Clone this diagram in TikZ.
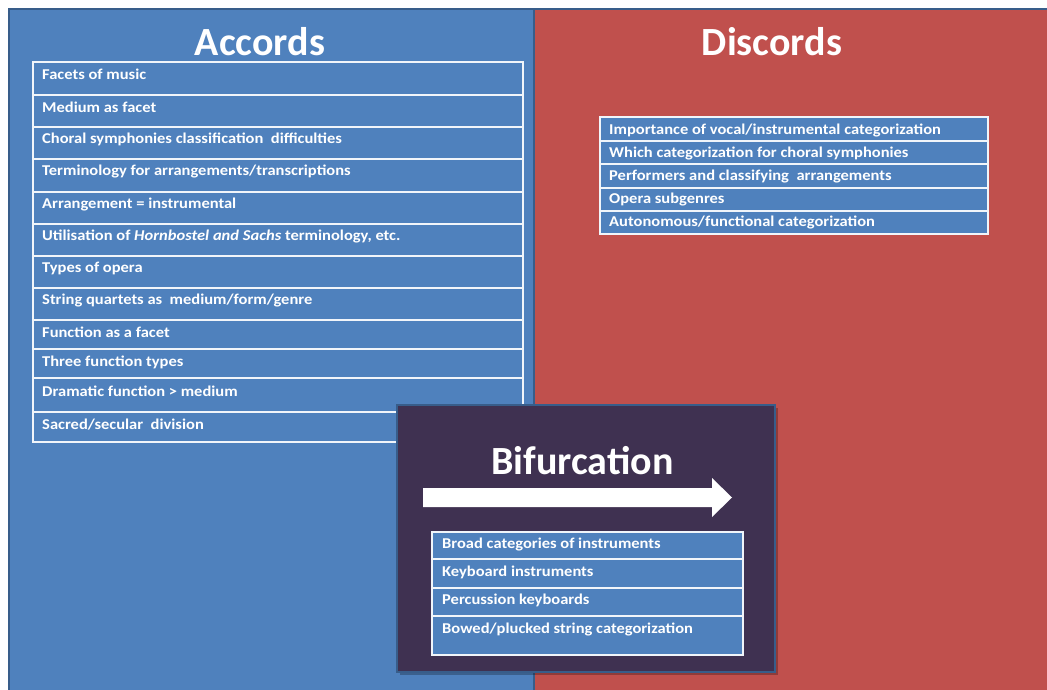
\documentclass[tikz,border=0pt]{standalone}
\usepackage{fontspec}
\setmainfont{Carlito}
\newfontfamily\rowfont[FakeStretch=1.1]{Carlito}
\definecolor{panelblue}{HTML}{4F81BD}
\definecolor{panelred}{HTML}{C0504D}
\definecolor{edgeblue}{HTML}{385D8A}
\definecolor{bifpurple}{HTML}{3F3151}
\tikzset{
  rowline/.style={draw=white!92!panelblue, line width=1.1pt},
  rowtext/.style={anchor=west, inner sep=0pt, text=white, font=\rowfont\fontsize{15}{17}\selectfont\bfseries},
  bigtitle/.style={text=white, inner sep=0pt, font=\fontsize{40}{43}\selectfont\bfseries},
}
\begin{document}
\begin{tikzpicture}[x=1pt,y=-1pt]
\useasboundingbox (0,0) rectangle (1047,690);
\fill[white] (0,0) rectangle (1047,690);
% panels
\fill[panelblue] (9,9) rectangle (534,695);
\fill[panelred] (534,9) rectangle (1052,695);
\draw[edgeblue, line width=2.5pt] (9,695) -- (9,9) -- (1052,9);
\draw[edgeblue, line width=2pt] (534,9) -- (534,695);
% titles
\node[bigtitle] (acc) at (260,42) {Accords};
\node[bigtitle] (dis) at (772,42) {Discords};
% Accords table
\foreach \t/\b in {62/95,95/127,127/159,159/192,192/224,224/256,256/288,288/320,320/349,349/378,378/412,412/442}
  \draw[rowline, fill=panelblue] (33,\t) rectangle (523,\b);
\node[rowtext] (a1) at (42,74.5) {Facets of music};
\node[rowtext] (a2) at (42,107.5) {Medium as facet};
\node[rowtext] (a3) at (42,139.5) {Choral symphonies classification\ \ difficulties};
\node[rowtext] (a4) at (42,171.5) {Terminology for arrangements/transcriptions};
\node[rowtext] (a5) at (42,204.5) {Arrangement = instrumental};
\node[rowtext] (a6) at (42,236.5) {Utilisation of \textit{Hornbostel and Sachs} terminology, etc.};
\node[rowtext] (a7) at (42,268.5) {Types of opera};
\node[rowtext] (a8) at (42,300.5) {String quartets as\ \ medium/form/genre};
\node[rowtext] (a9) at (42,332) {Function as a facet};
\node[rowtext] (a10) at (42,362) {Three function types};
\node[rowtext] (a11) at (42,391.5) {Dramatic function > medium};
\node[rowtext] (a12) at (42,425) {Sacred/secular\ \ division};
% Discords table
\foreach \t/\b in {117/141,141/164,164/188,188/211,211/234}
  \draw[rowline, fill=panelblue] (600,\t) rectangle (988,\b);
\node[rowtext] (d1) at (609,130) {Importance of vocal/instrumental categorization};
\node[rowtext] (d2) at (609,153.5) {Which categorization for choral symphonies};
\node[rowtext] (d3) at (609,176.5) {Performers and classifying\ \ arrangements};
\node[rowtext] (d4) at (609,199.5) {Opera subgenres};
\node[rowtext] (d5) at (609,222.5) {Autonomous/functional categorization};
% Bifurcation box
\fill[black, opacity=0.25] (400,408) rectangle (778,675);
\draw[edgeblue, line width=2.5pt, fill=bifpurple] (397,405) rectangle (775,672);
\node[bigtitle] (bif) at (582.5,461) {Bifurcation};
\fill[white] (423,488) -- (712,488) -- (712,478) -- (732,497.5) -- (712,517) -- (712,507) -- (423,507) -- cycle;
\foreach \t/\b in {532/559,559/588,588/616,616/655}
  \draw[rowline, fill=panelblue] (432,\t) rectangle (743,\b);
\node[rowtext] (b1) at (442,545) {Broad categories of instruments};
\node[rowtext] (b2) at (442,572.5) {Keyboard instruments};
\node[rowtext] (b3) at (442,600.5) {Percussion keyboards};
\node[rowtext] (b4) at (442,629) {Bowed/plucked string categorization};
\end{tikzpicture}
\end{document}
